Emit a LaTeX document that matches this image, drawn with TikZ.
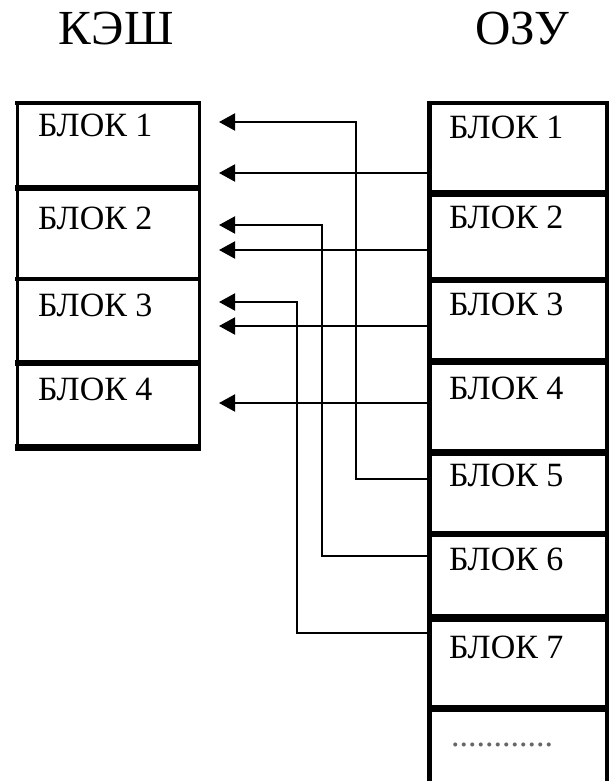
\documentclass[tikz,border=0pt]{standalone}
\usepackage{fontspec}
\setmainfont{Liberation Serif}
\usetikzlibrary{arrows.meta}
\usetikzlibrary{calc}
\usetikzlibrary{positioning}

\begin{document}
\begin{tikzpicture}[x = 1pt, y = -1pt, black, line width = 2pt]

    \useasboundingbox (0,0) rectangle (611,781);

    \def\cacheL{17}
    \def\cacheR{199}
    \def\ramL{429}
    \def\ramR{607}
    \def\tipX{219}

    \tikzset{blocktext/.style = {anchor = north west, inner sep = 0pt, font = \fontsize{34}{34}\selectfont},
             title/.style = {anchor = north, inner sep = 0pt, font = \fontsize{49}{49}\selectfont},
             link/.style = {line width = 2pt, -{Triangle[length = 16pt, width = 17pt]}}}

    % titles
    \node[title] (Cache) at (116, 11) {КЭШ};
    \node[title] (Ram) at (522, 11) {ОЗУ};

    % cache
    \draw[line width = 3pt] (\cacheL,103) -- (\cacheL,447) (\cacheR,103) -- (\cacheR,447);
    \foreach \Y/\W in {103/4.5, 188/6, 279/4.5, 363/6, 447/7}
        {\draw[line width = \W pt] (\cacheL-2,\Y) -- (\cacheR+2,\Y);}
    \foreach \N/\Y in {1/113, 2/206, 3/293, 4/377}
        {\node[blocktext] (C\N) at (37,\Y) {БЛОК \N};}

    % ram
    \draw[line width = 5pt] (\ramL,103) -- (\ramL,781);
    \draw[line width = 4pt] (\ramR,103) -- (\ramR,781);
    \foreach \Y/\W in {103/4.5, 193/7, 280/6, 361/7, 452/7, 534/6, 618/8, 708/7}
        {\draw[line width = \W pt] (\ramL-2,\Y) -- (\ramR+2,\Y);}
    \foreach \N/\Y in {1/115, 2/205, 3/292, 4/376, 5/463, 6/547, 7/635}
        {\node[blocktext] (R\N) at (448,\Y) {БЛОК \N};}
    \node[blocktext, anchor = base west, black!60] (Dots) at (450,746) {............};

    % ports
    \foreach \N/\Y in {1/173, 2/250, 3/326, 4/403, 5/479, 6/556, 7/633}
        {\coordinate (R\N-out) at (\ramL-2,\Y);}
    \foreach \NAME/\Y in {C1a/122, C1b/173, C2a/225, C2b/250, C3a/302, C3b/326, C4a/403}
        {\coordinate (\NAME) at (\tipX,\Y);}
    \foreach \N/\X in {5/356, 6/322, 7/297}
        {\coordinate (Bus\N) at (\X,0);}

    % links
    \foreach \FROM/\TO in {R1/C1b, R2/C2b, R3/C3b, R4/C4a}
        {\draw[link] (\FROM-out) -- (\TO);}
    \foreach \FROM/\TO in {5/C1a, 6/C2a, 7/C3a}
        {\draw[link] (R\FROM-out) -| (Bus\FROM |- \TO) -- (\TO);}

\end{tikzpicture}
\end{document}
